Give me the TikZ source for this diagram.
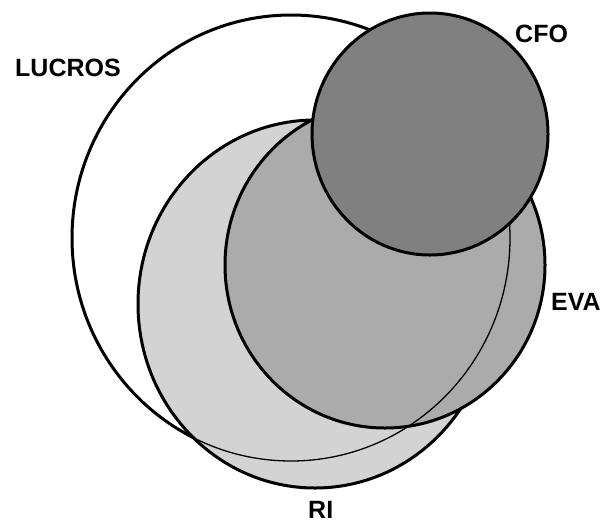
\documentclass[tikz,border=0pt]{standalone}
\usepackage{fontspec}
\setmainfont{Liberation Sans}
\definecolor{riGray}{HTML}{D3D3D3}
\definecolor{evaGray}{HTML}{ABABAB}
\definecolor{cfoGray}{HTML}{808080}
\begin{document}
\begin{tikzpicture}[x=1pt,y=-1pt,
  outl/.style={draw=black,line width=3pt},
  thinl/.style={draw=black,line width=1.3pt},
  lbl/.style={font=\bfseries\fontsize{25}{30}\selectfont,inner sep=0pt,anchor=base west}]
\useasboundingbox (0,0) rectangle (604,523);
\fill[white] (0,0) rectangle (604,523);
% LUCROS
\path[fill=white,outl] (291,238) ellipse [x radius=219, y radius=223];
% RI
\path[fill=riGray,outl] (315,304) ellipse [x radius=177, y radius=184];
% EVA
\path[fill=evaGray,outl] (385,265) ellipse [x radius=160, y radius=163];
% LUCROS outline seen through RI and EVA
\path[thinl] (291,238) ellipse [x radius=219, y radius=223];
% CFO
\path[fill=cfoGray,outl] (430,134) ellipse [x radius=118, y radius=121];
% labels
\node[lbl] (lucros) at (15,76) {LUCROS};
\node[lbl] (cfo) at (515,42) {CFO};
\node[lbl] (eva) at (551,310) {EVA};
\node[lbl] (ri) at (308,518) {RI};
\end{tikzpicture}
\end{document}
